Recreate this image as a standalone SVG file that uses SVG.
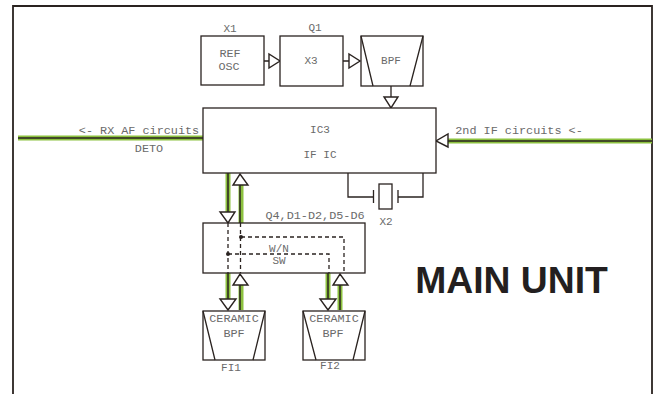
<svg xmlns="http://www.w3.org/2000/svg" width="658" height="394" viewBox="0 0 658 394">
<style>
text{font-family:"Liberation Mono",monospace;font-size:11.8px;fill:#6a6a6a;text-anchor:middle}
.s{font-size:11px}
.b{fill:#fff;stroke:#2a2320;stroke-width:1.3}
.l{fill:none;stroke:#2a2320;stroke-width:1.3}
.t{fill:#fff;stroke:#2a2320;stroke-width:1.4}
.g{fill:none;stroke:#8cc13f;stroke-width:5}
.d{fill:none;stroke:#2a2320;stroke-width:1.3;stroke-dasharray:4 3}
.w{fill:none;stroke:#2a2320;stroke-width:1.5}
</style>
<rect width="658" height="394" fill="#fff"/>
<path d="M13 394V6H652V394" fill="none" stroke="#2a2320" stroke-width="1.8"/>
<g id="connectors">
<path class="g" d="M18 138H203M448 141H652M228 173V212M241 185V223M228 273V299M241 285V310M328 273V299M340 285V310"/>
<path class="w" d="M18 138H203M448 141H652M228 173V212M240 185V223M228 273V299M240 285V310M328 273V299M340 285V310"/>
<path class="l" d="M264 61H269M343 61H349M391 86V97M348 173V197H373M423 173V197H398"/>
<path class="t" d="M269 54V68L280 61ZM349 54V68L360 61ZM384 97H398L391 108ZM448 134V147L436 141ZM220 212H235L228 223ZM233 185H248L240 174ZM220 299H236L228 310ZM233 285H248L240 274ZM320 299H336L328 310ZM333 285H348L340 274Z"/>
</g>
<g id="x1"><rect class="b" x="201" y="36" width="63" height="49"/><text class="s" x="230" y="32">X1</text><text x="230" y="57">REF</text><text x="229" y="70">OSC</text></g>
<g id="q1"><rect class="b" x="280" y="36" width="63" height="50"/><text class="s" x="315" y="31">Q1</text><text class="s" x="311" y="64">X3</text></g>
<g id="bpf"><rect class="b" x="361" y="36" width="62" height="50"/><path class="l" d="M361 36L373 86M423 36L410 86"/><text class="s" x="391" y="64">BPF</text></g>
<g id="ic3"><rect class="b" x="203" y="108" width="233" height="65"/><text class="s" x="320" y="133">IC3</text><text class="s" x="320" y="158">IF IC</text></g>
<g id="labels"><text x="139" y="134">&lt;- RX AF circuits</text><text x="149" y="152">DETO</text><text x="519" y="134">2nd IF circuits &lt;-</text></g>
<g id="x2"><path class="l" d="M373.500 190V203M398 190V203"/><rect class="b" x="379" y="184" width="13" height="25"/><text class="s" x="386" y="225">X2</text></g>
<g id="sw"><rect class="b" x="203" y="223" width="162" height="50"/><text x="315" y="219">Q4,D1-D2,D5-D6</text>
<path class="d" d="M228 223V273M240.500 223V273M241 237H344V273M228 254H329V273"/><circle cx="241" cy="237" r="2" fill="#2a2320"/><circle cx="228" cy="254" r="2" fill="#2a2320"/>
<text class="s" x="279" y="252">W/N</text><text class="s" x="279" y="264">SW</text></g>
<g id="fi1"><rect class="b" x="203" y="311" width="62" height="49"/><path class="l" d="M203 311L215 360M265 311L253 360"/><text x="234" y="322">CERAMIC</text><text x="234" y="337">BPF</text><text class="s" x="231" y="371">FI1</text></g>
<g id="fi2"><rect class="b" x="303" y="311" width="62" height="49"/><path class="l" d="M303 311L316 360M365 311L353 360"/><text x="334" y="322">CERAMIC</text><text x="333" y="337">BPF</text><text class="s" x="330" y="369">FI2</text></g>
<text id="title" x="511.500" y="292.500" style="font-family:'Liberation Sans',Arial,sans-serif;font-weight:bold;font-size:37.300px;fill:#231f20">MAIN UNIT</text>
</svg>
